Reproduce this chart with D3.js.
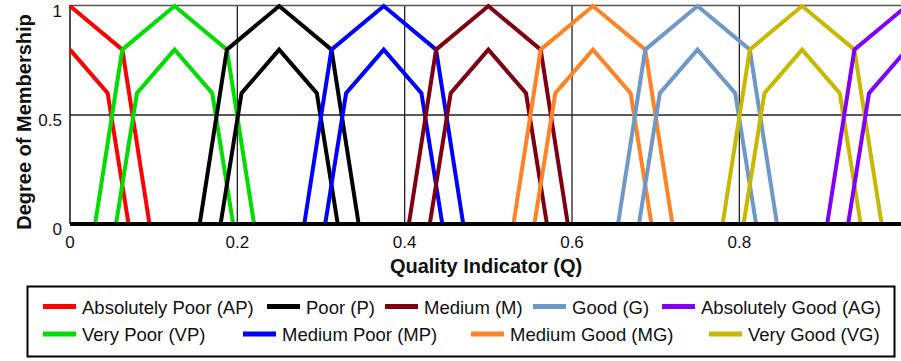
<!DOCTYPE html>
<html>
<head>
<meta charset="utf-8">
<script src="https://cdn.jsdelivr.net/npm/d3@7"></script>
<style>
  html, body { margin: 0; padding: 0; background: #fff; }
  svg { display: block; font-family: "Liberation Sans", Arial, Helvetica, sans-serif; }
</style>
</head>
<body>
<svg id="chart" width="901" height="361"></svg>
<script>
// ---- data ----
const setNames = ['Absolutely Poor (AP)', 'Very Poor (VP)', 'Poor (P)', 'Medium Poor (MP)',
  'Medium (M)', 'Medium Good (MG)', 'Good (G)', 'Very Good (VG)', 'Absolutely Good (AG)'];
const setColors = ['#ff0000', '#00dd00', '#000000', '#0000ff', '#7f0010', '#ff8225', '#6e98c8', '#c8b800', '#7f00ff'];

// upper membership functions [Q, mu]
const upperAP = [[0, 1], [0.0625, 0.8], [0.095, 0]];
const upperVP = [[0.03, 0], [0.0625, 0.8], [0.125, 1], [0.1875, 0.8], [0.22, 0]];
const upperP  = [[0.155, 0], [0.1875, 0.8], [0.25, 1], [0.3125, 0.8], [0.345, 0]];
const upperMP = [[0.28, 0], [0.3125, 0.8], [0.375, 1], [0.4375, 0.8], [0.47, 0]];
const upperM  = [[0.405, 0], [0.4375, 0.8], [0.5, 1], [0.5625, 0.8], [0.595, 0]];
const upperMG = [[0.53, 0], [0.5625, 0.8], [0.625, 1], [0.6875, 0.8], [0.72, 0]];
const upperG  = [[0.655, 0], [0.6875, 0.8], [0.75, 1], [0.8125, 0.8], [0.845, 0]];
const upperVG = [[0.78, 0], [0.8125, 0.8], [0.875, 1], [0.9375, 0.8], [0.97, 0]];
const upperAG = [[0.905, 0], [0.9375, 0.8], [1, 1]];

// lower membership functions [Q, mu]
const lowerAP = [[0, 0.8], [0.045, 0.6], [0.07, 0]];
const lowerVP = [[0.055, 0], [0.08, 0.6], [0.125, 0.8], [0.17, 0.6], [0.195, 0]];
const lowerP  = [[0.18, 0], [0.205, 0.6], [0.25, 0.8], [0.295, 0.6], [0.32, 0]];
const lowerMP = [[0.305, 0], [0.33, 0.6], [0.375, 0.8], [0.42, 0.6], [0.445, 0]];
const lowerM  = [[0.43, 0], [0.455, 0.6], [0.5, 0.8], [0.545, 0.6], [0.57, 0]];
const lowerMG = [[0.555, 0], [0.58, 0.6], [0.625, 0.8], [0.67, 0.6], [0.695, 0]];
const lowerG  = [[0.68, 0], [0.705, 0.6], [0.75, 0.8], [0.795, 0.6], [0.82, 0]];
const lowerVG = [[0.805, 0], [0.83, 0.6], [0.875, 0.8], [0.92, 0.6], [0.945, 0]];
const lowerAG = [[0.93, 0], [0.955, 0.6], [1, 0.8]];

// the "1" label falls outside the visible picture, so only these are shown
const xTicks = [0, 0.2, 0.4, 0.6, 0.8];
const yTicks = [0, 0.5, 1];
const xTickLabels = ['0', '0.2', '0.4', '0.6', '0.8'];
const yTickLabels = ['0', '0.5', '1'];

const upperSets = [upperAP, upperVP, upperP, upperMP, upperM, upperMG, upperG, upperVG, upperAG];
const lowerSets = [lowerAP, lowerVP, lowerP, lowerMP, lowerM, lowerMG, lowerG, lowerVG, lowerAG];

// legend layout (order as in the figure)
const legendRow1 = [0, 2, 4, 6, 8];
const legendRow2 = [1, 3, 5, 7];

// ---- layout ----
const svg = d3.select('#chart');
const x = d3.scaleLinear().domain([0, 1]).range([70, 906.7]);
const y = d3.scaleLinear().domain([0, 1]).range([224, 6]);

// grid
const grid = svg.append('g');
grid.selectAll('line.vg').data(xTicks.slice(1)).enter().append('line')
  .attr('x1', d => x(d)).attr('x2', d => x(d))
  .attr('y1', y(1)).attr('y2', y(0))
  .attr('stroke', '#222').attr('stroke-width', 1.3);
grid.selectAll('line.hg').data([0.5]).enter().append('line')
  .attr('x1', x(0)).attr('x2', x(1))
  .attr('y1', d => y(d)).attr('y2', d => y(d))
  .attr('stroke', '#222').attr('stroke-width', 1.3);
// frame top and left
svg.append('line').attr('x1', x(0)).attr('x2', x(1)).attr('y1', y(1) - 0.5).attr('y2', y(1) - 0.5)
  .attr('stroke', '#555').attr('stroke-width', 1.5);
svg.append('line').attr('x1', x(0)).attr('x2', x(0)).attr('y1', y(1) - 1).attr('y2', y(0))
  .attr('stroke', '#111').attr('stroke-width', 1.5);

// series
const line = d3.line().x(d => x(d[0])).y(d => y(d[1]));
const series = svg.append('g').attr('fill', 'none').attr('stroke-width', 4).attr('stroke-linejoin', 'miter');
setNames.forEach((name, i) => {
  series.append('path').attr('d', line(upperSets[i])).attr('stroke', setColors[i]);
  series.append('path').attr('d', line(lowerSets[i])).attr('stroke', setColors[i]);
});

// zero baseline
svg.append('line').attr('x1', x(0)).attr('x2', x(1)).attr('y1', y(0)).attr('y2', y(0))
  .attr('stroke', '#000').attr('stroke-width', 4);

// tick labels
svg.append('g').selectAll('text').data(xTicks).enter().append('text')
  .attr('x', d => x(d)).attr('y', 247.5)
  .attr('text-anchor', 'middle').attr('font-size', 17).attr('fill', '#111')
  .text((d, i) => xTickLabels[i]);
svg.append('g').selectAll('text').data(yTicks).enter().append('text')
  .attr('x', 62).attr('y', d => y(d) + 11)
  .attr('text-anchor', 'end').attr('font-size', 17).attr('fill', '#111')
  .text((d, i) => yTickLabels[i]);

// axis titles
svg.append('text').attr('x', 486).attr('y', 273)
  .attr('text-anchor', 'middle').attr('font-size', 20).attr('font-weight', 'bold')
  .attr('fill', '#111').text('Quality Indicator (Q)');
svg.append('text').attr('transform', 'translate(31,122) rotate(-90)')
  .attr('text-anchor', 'middle').attr('font-size', 20).attr('font-weight', 'bold')
  .attr('fill', '#111').text('Degree of Membership');

// legend
svg.append('rect').attr('x', 27.5).attr('y', 286.5).attr('width', 867).attr('height', 70)
  .attr('fill', '#fff').attr('stroke', '#000').attr('stroke-width', 2);

const row1X = [43, 267, 385, 533, 662];
const row2X = [43, 243, 471, 709];
function legendRow(idx, xs, yMid) {
  const g = svg.append('g');
  idx.forEach((k, j) => {
    g.append('line').attr('x1', xs[j]).attr('x2', xs[j] + 33)
      .attr('y1', yMid).attr('y2', yMid)
      .attr('stroke', setColors[k]).attr('stroke-width', 5);
    g.append('text').attr('x', xs[j] + 39).attr('y', yMid + 7)
      .attr('font-size', 18.5).attr('fill', '#111').text(setNames[k]);
  });
}
legendRow(legendRow1, row1X, 306.5);
legendRow(legendRow2, row2X, 334);
</script>
</body>
</html>
